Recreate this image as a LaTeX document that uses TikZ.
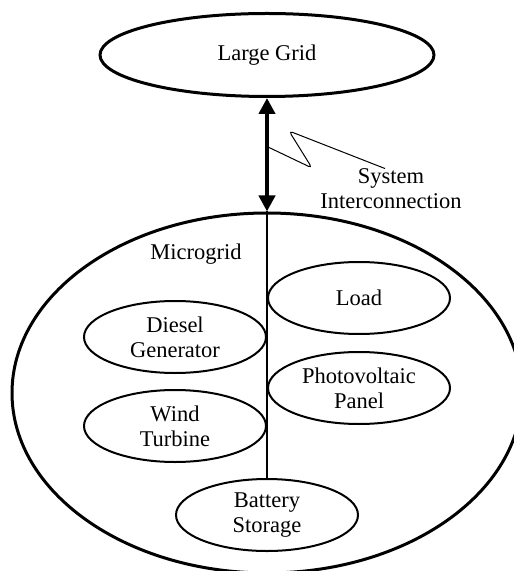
\documentclass[tikz,border=0pt]{standalone}
\usepackage{fontspec}
\setmainfont{Liberation Serif}
\usetikzlibrary{shapes.geometric, arrows.meta, positioning}

\begin{document}
\begin{tikzpicture}[x=0.5pt, y=-0.5pt,
    txt/.style={inner sep=0pt, align=center, font=\fontsize{11.25}{12.5}\selectfont},
    part/.style={txt, ellipse, draw, line width=1pt, minimum width=91pt, minimum height=36pt},
    area/.style={ellipse, draw, line width=1.5pt, inner sep=0pt},
    link/.style={{Triangle[length=8pt,width=8pt]}-{Triangle[length=8pt,width=8pt]}, line width=2pt},
    bus/.style={line width=1pt},
    leader/.style={line width=0.5pt, rounded corners=2pt}
]
\useasboundingbox (0,0) rectangle (513,571);
\node[area, txt, minimum width=167pt, minimum height=41.5pt] (large) at (267,55) {Large Grid};
\node[area, minimum width=255pt, minimum height=180pt] (micro) at (267,393) {};
\node[txt] (microlbl) at (196,254) {Microgrid};
\node[part] (load) at (359,298) {Load};
\node[part] (diesel) at (175,337) {Diesel\\Generator};
\node[part] (pv) at (359,388) {Photovoltaic\\Panel};
\node[part] (wind) at (175,426) {Wind\\Turbine};
\node[part] (battery) at (267,515) {Battery\\Storage};
\node[txt] (sysint) at (391,189) {System\\Interconnection};
% grid tie and internal bus
\draw[link] (large.south) -- (micro.north);
\draw[bus] (micro.north) -- (battery.north);
\coordinate (tap) at (268,147);
\draw[leader] (tap) -- (312,168) -- (289,131) -- ([xshift=-3pt]sysint.north);
\end{tikzpicture}
\end{document}
